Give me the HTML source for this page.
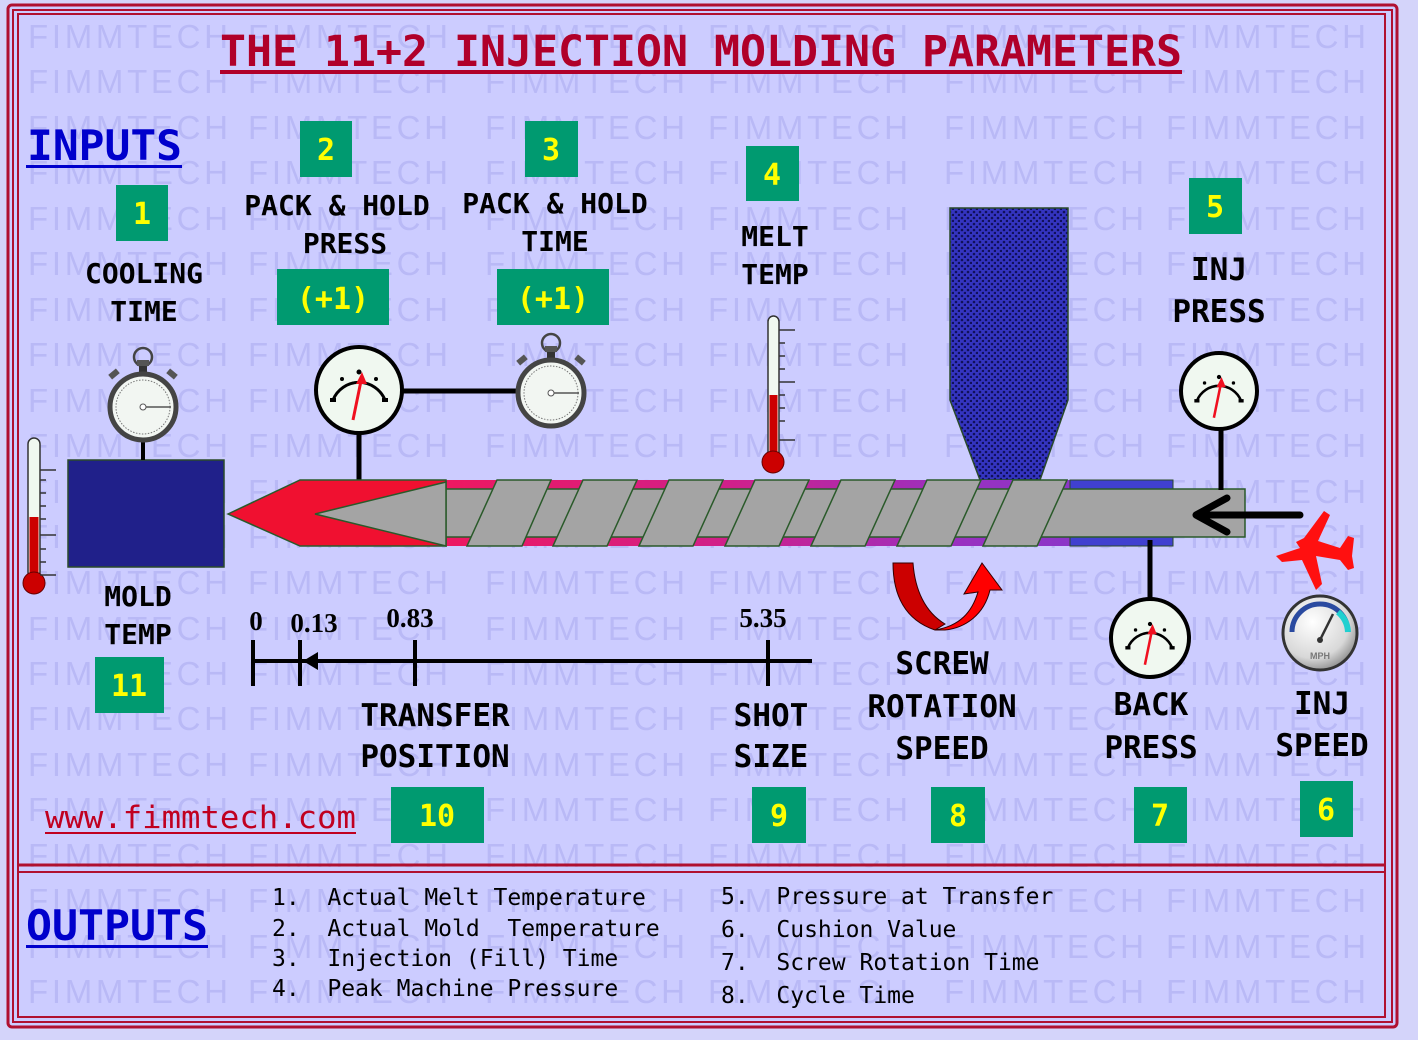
<!DOCTYPE html>
<html><head><meta charset="utf-8"><style>
html,body{margin:0;padding:0;background:#d4d4fa;}
svg{display:block;}
.m{font-family:"DejaVu Sans Mono","Liberation Mono",monospace;font-weight:bold;}
.lb{font-size:28px;fill:#000;text-anchor:middle;}
.lb2{font-size:31px;fill:#000;text-anchor:middle;}
.nb{font-size:30px;fill:#ffff00;text-anchor:middle;}
.g{fill:#009a70;}
.s{font-family:"Liberation Serif",serif;font-weight:bold;font-size:27px;fill:#000;}
.o{font-family:"DejaVu Sans Mono","Liberation Mono",monospace;font-size:23px;fill:#000;}
.w{font-family:"Liberation Sans",sans-serif;font-size:33px;fill:#b9b9f6;}
</style></head><body>
<svg width="1418" height="1040" viewBox="0 0 1418 1040" xmlns="http://www.w3.org/2000/svg">
<defs>
<pattern id="dots" width="6" height="6" patternUnits="userSpaceOnUse">
<rect width="6" height="6" fill="#3434c0"/><circle cx="2" cy="2" r="1.3" fill="#10105a"/><circle cx="5" cy="5" r="1.3" fill="#10105a"/>
</pattern>
<linearGradient id="strp" x1="440" y1="0" x2="1080" y2="0" gradientUnits="userSpaceOnUse">
<stop offset="0" stop-color="#ee1860"/><stop offset="0.45" stop-color="#d0208a"/><stop offset="0.8" stop-color="#9a30c0"/><stop offset="1" stop-color="#8a36c8"/>
</linearGradient>
<radialGradient id="spd" cx="0.4" cy="0.35" r="0.7"><stop offset="0" stop-color="#ffffff"/><stop offset="0.7" stop-color="#d8d8d8"/><stop offset="1" stop-color="#888"/></radialGradient>
<g id="wr">
<text class="w" x="28" y="0" textLength="200" lengthAdjust="spacing">FIMMTECH</text>
<text class="w" x="248" y="0" textLength="200" lengthAdjust="spacing">FIMMTECH</text>
<text class="w" x="485" y="0" textLength="200" lengthAdjust="spacing">FIMMTECH</text>
<text class="w" x="708" y="0" textLength="200" lengthAdjust="spacing">FIMMTECH</text>
<text class="w" x="944" y="0" textLength="200" lengthAdjust="spacing">FIMMTECH</text>
<text class="w" x="1166" y="0" textLength="200" lengthAdjust="spacing">FIMMTECH</text>
</g>
<g id="sw">
<circle cx="0" cy="-50" r="9" fill="none" stroke="#444" stroke-width="2.5"/>
<rect x="-6" y="-47" width="12" height="6" fill="#555"/>
<rect x="-4" y="-41" width="8" height="8" fill="#333"/>
<rect x="-34" y="-36" width="10" height="6" fill="#555" transform="rotate(-40 -29 -33)"/>
<rect x="24" y="-36" width="10" height="6" fill="#555" transform="rotate(40 29 -33)"/>
<circle r="33" fill="#f2f6f2" stroke="#444" stroke-width="5"/>
<circle r="27" fill="none" stroke="#777" stroke-width="1" stroke-dasharray="1.5 1.5"/>
<line x1="0" y1="0" x2="28" y2="0" stroke="#555" stroke-width="1.5"/>
<circle r="3" fill="#fff" stroke="#555" stroke-width="1"/>
</g>
<g id="gauge">
<path d="M-26,8 A28,28 0 0 1 26,8" fill="none" stroke="#000" stroke-width="3"/>
<rect x="-29" y="6" width="6" height="4" fill="#000"/><rect x="23" y="6" width="6" height="4" fill="#000"/>
<circle cx="0" cy="-20" r="2.5" fill="#000"/><circle cx="-17" cy="-13" r="2" fill="#000"/><circle cx="17" cy="-13" r="2" fill="#000"/>
<line x1="-6" y1="28" x2="3" y2="-16" stroke="#f01020" stroke-width="3"/>
<path d="M3,-20 L-3,-8 L8,-8 Z" fill="#f01020"/>
</g>
</defs>
<rect width="1418" height="1040" fill="#d4d4fa"/>
<rect x="9" y="6" width="1387" height="1022" fill="#ccccff"/>
<use href="#wr" y="48"/><use href="#wr" y="93"/><use href="#wr" y="139"/><use href="#wr" y="184"/><use href="#wr" y="230"/><use href="#wr" y="275"/><use href="#wr" y="321"/><use href="#wr" y="366"/><use href="#wr" y="412"/><use href="#wr" y="457"/><use href="#wr" y="503"/><use href="#wr" y="548"/><use href="#wr" y="594"/><use href="#wr" y="640"/><use href="#wr" y="685"/><use href="#wr" y="730"/><use href="#wr" y="776"/><use href="#wr" y="821"/><use href="#wr" y="867"/><use href="#wr" y="912"/><use href="#wr" y="958"/><use href="#wr" y="1003"/>
<!-- frame -->
<rect x="8" y="5" width="1389" height="1022" rx="4" fill="none" stroke="#b01030" stroke-width="3"/>
<rect x="13" y="10" width="1379" height="1012" fill="none" stroke="#b01030" stroke-width="2"/>
<rect x="18" y="14" width="1367" height="1003" fill="none" stroke="#b01030" stroke-width="2"/>
<line x1="18" y1="865" x2="1385" y2="865" stroke="#b01030" stroke-width="3"/>
<line x1="18" y1="872" x2="1385" y2="872" stroke="#b01030" stroke-width="2"/>
<!-- title -->
<text class="m" x="220" y="66" font-size="43" fill="#b0002a" textLength="962" lengthAdjust="spacingAndGlyphs">THE 11+2 INJECTION MOLDING PARAMETERS</text>
<rect x="220" y="70" width="962" height="4" fill="#b0002a"/>
<text class="m" x="27" y="160" font-size="42" fill="#0000cc" textLength="155" lengthAdjust="spacingAndGlyphs">INPUTS</text>
<rect x="26" y="165" width="156" height="3" fill="#0000cc"/>
<!-- green boxes -->
<rect class="g" x="116" y="185" width="52" height="56"/><text class="m nb" x="142" y="224">1</text>
<rect class="g" x="300" y="121" width="52" height="56"/><text class="m nb" x="326" y="160">2</text>
<rect class="g" x="525" y="121" width="53" height="56"/><text class="m nb" x="551" y="160">3</text>
<rect class="g" x="746" y="146" width="53" height="55"/><text class="m nb" x="772" y="185">4</text>
<rect class="g" x="1189" y="178" width="53" height="56"/><text class="m nb" x="1215" y="217">5</text>
<rect class="g" x="277" y="269" width="112" height="56"/><text class="m nb" x="333" y="309">(+1)</text>
<rect class="g" x="497" y="269" width="112" height="56"/><text class="m nb" x="553" y="309">(+1)</text>
<rect class="g" x="95" y="657" width="69" height="56"/><text class="m nb" x="129" y="696">11</text>
<rect class="g" x="391" y="787" width="93" height="56"/><text class="m nb" x="437" y="826">10</text>
<rect class="g" x="752" y="787" width="54" height="56"/><text class="m nb" x="779" y="826">9</text>
<rect class="g" x="931" y="787" width="54" height="56"/><text class="m nb" x="958" y="826">8</text>
<rect class="g" x="1134" y="787" width="53" height="56"/><text class="m nb" x="1160" y="826">7</text>
<rect class="g" x="1300" y="781" width="53" height="56"/><text class="m nb" x="1326" y="820">6</text>
<!-- labels -->
<text class="m lb" x="144" y="283">COOLING</text><text class="m lb" x="144" y="321">TIME</text>
<text class="m lb" x="337" y="215">PACK &amp; HOLD</text><text class="m lb" x="345" y="253">PRESS</text>
<text class="m lb" x="555" y="213">PACK &amp; HOLD</text><text class="m lb" x="555" y="251">TIME</text>
<text class="m lb" x="775" y="246">MELT</text><text class="m lb" x="775" y="284">TEMP</text>
<text class="m lb2" x="1219" y="280">INJ</text><text class="m lb2" x="1219" y="322">PRESS</text>
<text class="m lb" x="138" y="606">MOLD</text><text class="m lb" x="138" y="644">TEMP</text>
<text class="m lb2" x="435" y="726">TRANSFER</text><text class="m lb2" x="435" y="767">POSITION</text>
<text class="m lb2" x="771" y="726">SHOT</text><text class="m lb2" x="771" y="767">SIZE</text>
<text class="m lb2" x="942" y="674">SCREW</text><text class="m lb2" x="942" y="717">ROTATION</text><text class="m lb2" x="942" y="759">SPEED</text>
<text class="m lb2" x="1151" y="715">BACK</text><text class="m lb2" x="1151" y="758">PRESS</text>
<text class="m lb2" x="1322" y="714">INJ</text><text class="m lb2" x="1322" y="756">SPEED</text>
<text x="45" y="828" font-family="DejaVu Sans Mono,Liberation Mono,monospace" font-size="31" fill="#c00020" textLength="311" lengthAdjust="spacingAndGlyphs">www.fimmtech.com</text>
<rect x="45" y="832" width="311" height="2" fill="#c00020"/>
<!-- mold -->
<rect x="68" y="460" width="156" height="107" fill="#20208a" stroke="#2a4a2a" stroke-width="1.5"/>
<line x1="143" y1="438" x2="143" y2="460" stroke="#000" stroke-width="4"/>
<use href="#sw" x="143" y="407"/>
<!-- left thermometer -->
<rect x="28" y="438" width="12" height="140" rx="6" fill="#f0f8f0" stroke="#333" stroke-width="1.5"/>
<rect x="29.5" y="517" width="9" height="60" fill="#cc0000"/>
<circle cx="34" cy="583" r="11" fill="#cc0000" stroke="#600" stroke-width="1"/>
<g stroke="#333" stroke-width="1.5"><line x1="40" y1="470" x2="56" y2="470"/><line x1="40" y1="535" x2="56" y2="535"/><line x1="40" y1="480" x2="46" y2="480"/><line x1="40" y1="493" x2="46" y2="493"/><line x1="40" y1="506" x2="46" y2="506"/><line x1="40" y1="519" x2="46" y2="519"/><line x1="40" y1="549" x2="46" y2="549"/><line x1="40" y1="562" x2="46" y2="562"/><line x1="40" y1="575" x2="56" y2="575"/></g>
<!-- melt thermometer -->
<rect x="768" y="316" width="11" height="150" rx="5.5" fill="#f0f8f0" stroke="#333" stroke-width="1.5"/>
<rect x="769.5" y="395" width="8" height="68" fill="#cc0000"/>
<circle cx="773" cy="462" r="11" fill="#cc0000" stroke="#600" stroke-width="1"/>
<g stroke="#333" stroke-width="1.5"><line x1="779" y1="330" x2="795" y2="330"/><line x1="779" y1="343" x2="785" y2="343"/><line x1="779" y1="356" x2="785" y2="356"/><line x1="779" y1="369" x2="785" y2="369"/><line x1="779" y1="382" x2="795" y2="382"/><line x1="779" y1="395" x2="785" y2="395"/><line x1="779" y1="408" x2="785" y2="408"/><line x1="779" y1="421" x2="785" y2="421"/><line x1="779" y1="440" x2="795" y2="440"/></g>
<!-- pack press gauge + time -->
<line x1="359" y1="430" x2="359" y2="482" stroke="#000" stroke-width="5"/>
<line x1="400" y1="391" x2="520" y2="391" stroke="#000" stroke-width="5"/>
<circle cx="359" cy="390" r="43" fill="#f0f8f0" stroke="#000" stroke-width="4"/>
<use href="#gauge" x="359" y="392"/>
<use href="#sw" x="551" y="393"/>
<!-- hopper -->
<path d="M950,208 L1068,208 L1068,400 L1040,480 L980,480 L950,400 Z" fill="url(#dots)" stroke="#2a4a2a" stroke-width="1.5"/>
<!-- barrel -->
<rect x="318" y="480" width="855" height="66" fill="url(#strp)"/>
<rect x="1070" y="480" width="103" height="66" fill="#4040d0" stroke="#2a4a2a" stroke-width="1"/>
<rect x="318" y="489" width="927" height="48" fill="#a4a4a4" stroke="#2a5a2a" stroke-width="1.5"/>
<g fill="#a4a4a4" stroke="#2a5a2a" stroke-width="1.5">
<polygon points="497,480 551,480 522,546 467,546"/>
<polygon points="583,480 637,480 607,546 553,546"/>
<polygon points="669,480 723,480 693,546 639,546"/>
<polygon points="755,480 809,480 779,546 725,546"/>
<polygon points="841,480 895,480 865,546 811,546"/>
<polygon points="927,480 981,480 951,546 897,546"/>
<polygon points="1013,480 1067,480 1037,546 983,546"/>
</g>
<polygon points="228,514 300,480 446,480 446,546 300,546" fill="#f01030" stroke="#2a5a2a" stroke-width="1.5"/>
<polygon points="315,514 446,482 446,546" fill="#a4a4a4" stroke="#2a5a2a" stroke-width="1.5"/>
<!-- inj press -->
<line x1="1221" y1="428" x2="1221" y2="490" stroke="#000" stroke-width="5"/>
<circle cx="1219" cy="391" r="38" fill="#f0f8f0" stroke="#000" stroke-width="4"/>
<use href="#gauge" x="1219" y="394" transform="translate(1219 394) scale(0.85) translate(-1219 -394)"/>
<path d="M1300,515 L1196,515 M1227,498 L1196,515 L1227,532" fill="none" stroke="#000" stroke-width="7" stroke-linecap="round" stroke-linejoin="round"/>
<!-- back press -->
<line x1="1150" y1="540" x2="1150" y2="600" stroke="#000" stroke-width="5"/>
<circle cx="1150" cy="638" r="39" fill="#f0f8f0" stroke="#000" stroke-width="4"/>
<use href="#gauge" x="1150" y="641" transform="translate(1150 641) scale(0.85) translate(-1150 -641)"/>
<!-- speedometer -->
<circle cx="1320" cy="633" r="37" fill="url(#spd)" stroke="#333" stroke-width="3"/>
<path d="M1292,632 A28,28 0 0 1 1348,632" fill="none" stroke="#2a4aa0" stroke-width="5"/>
<path d="M1338,612 A28,28 0 0 1 1348,632" fill="none" stroke="#20d0d0" stroke-width="6"/>
<line x1="1320" y1="640" x2="1333" y2="614" stroke="#333" stroke-width="2.5"/>
<circle cx="1320" cy="640" r="3" fill="#333"/>
<text x="1320" y="659" font-family="Liberation Sans,sans-serif" font-size="9" font-weight="bold" fill="#777" text-anchor="middle">MPH</text>
<!-- airplane -->
<path d="M1324,511 L1330,515 L1318,541 L1340,548 L1348,536 L1354,538 L1352,556 L1354,568 L1348,570 L1340,560 L1316,556 L1322,584 L1316,590 L1302,560 L1282,562 L1276,556 L1300,548 L1296,542 L1304,538 Z" fill="#ff1010"/>
<!-- rotation arrow -->
<path d="M893,563 L913,563 C915,590 925,612 945,624 L935,630 C905,620 893,595 893,563 Z" fill="#cc0000" stroke="#300" stroke-width="1"/>
<path d="M935,630 C960,626 972,612 978,592 L964,594 L982,563 L1002,590 L990,590 C984,615 965,628 945,630 Z" fill="#ff0000" stroke="#300" stroke-width="1"/>
<!-- timeline -->
<line x1="253" y1="661" x2="812" y2="661" stroke="#000" stroke-width="4"/>
<g stroke="#000" stroke-width="4"><line x1="253" y1="640" x2="253" y2="686"/><line x1="300" y1="640" x2="300" y2="686"/><line x1="415" y1="640" x2="415" y2="686"/><line x1="768" y1="640" x2="768" y2="686"/></g>
<polygon points="303,661 318,652 318,670" fill="#000"/>
<text class="s" x="256" y="630" text-anchor="middle">0</text>
<text class="s" x="314" y="632" text-anchor="middle">0.13</text>
<text class="s" x="410" y="627" text-anchor="middle">0.83</text>
<text class="s" x="763" y="627" text-anchor="middle">5.35</text>
<!-- outputs -->
<text class="m" x="26" y="940" font-size="42" fill="#0000cc" textLength="182" lengthAdjust="spacingAndGlyphs">OUTPUTS</text>
<rect x="26" y="945" width="182" height="3" fill="#0000cc"/>
<text class="o" x="272" y="905" xml:space="preserve">1.  Actual Melt Temperature</text>
<text class="o" x="272" y="936" xml:space="preserve">2.  Actual Mold  Temperature</text>
<text class="o" x="272" y="966" xml:space="preserve">3.  Injection (Fill) Time</text>
<text class="o" x="272" y="996" xml:space="preserve">4.  Peak Machine Pressure</text>
<text class="o" x="721" y="904" xml:space="preserve">5.  Pressure at Transfer</text>
<text class="o" x="721" y="937" xml:space="preserve">6.  Cushion Value</text>
<text class="o" x="721" y="970" xml:space="preserve">7.  Screw Rotation Time</text>
<text class="o" x="721" y="1003" xml:space="preserve">8.  Cycle Time</text>
</svg>
</body></html>
